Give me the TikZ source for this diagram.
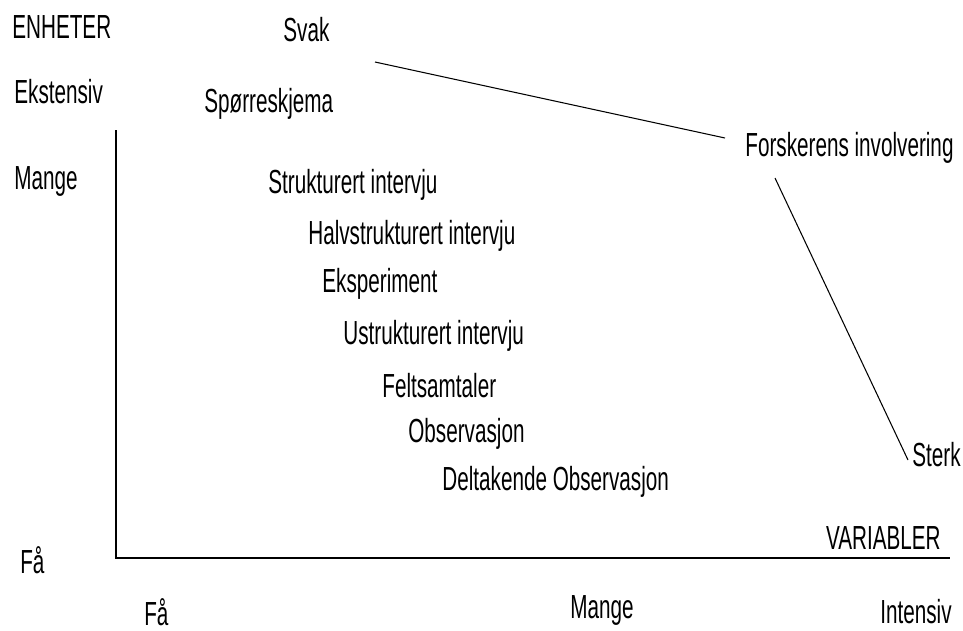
\documentclass[tikz,border=0pt]{standalone}
\usepackage{fontspec}
\setmainfont{Liberation Sans}[FakeStretch=0.62]
\begin{document}
\begin{tikzpicture}[x=0.02cm,y=-0.02cm,
		lbl/.style={anchor=west,inner sep=0pt,font=\fontsize{19}{22}\selectfont},
		axis/.style={line width=1.1pt},
		thin line/.style={line width=0.6pt}]
		\useasboundingbox (0,0) rectangle (963,630);
		% the axes
		\coordinate (top) at (116,130);
		\coordinate (O) at (116,558);
		\coordinate (right) at (950,558);
		\draw[axis] (top) -- (O) -- (right);
		% labels on the left
		\node[lbl] (enheter) at (12,27) {ENHETER};
		\node[lbl] (ekst) at (14,92) {Ekstensiv};
		\node[lbl] (mangeL) at (14,181) {Mange};
		\node[lbl] (faL) at (20,560) {Få};
		% labels below
		\node[lbl] (faB) at (144,612) {Få};
		\node[lbl] (mangeB) at (570,610) {Mange};
		\node[lbl,anchor=east] (intens) at (952,612) {Intensiv};
		\node[lbl,anchor=east] (var) at (941,538) {VARIABLER};
		% the methods
		\node[lbl] (svak) at (283,30) {Svak};
		\node[lbl] (sporre) at (204,104) {Spørreskjema};
		\node[lbl] (strukt) at (268,185) {Strukturert intervju};
		\node[lbl] (halv) at (308,236) {Halvstrukturert intervju};
		\node[lbl] (eksp) at (322,284) {Eksperiment};
		\node[lbl] (ustrukt) at (343,336) {Ustrukturert intervju};
		\node[lbl] (felt) at (382,386) {Feltsamtaler};
		\node[lbl] (obs) at (408,434) {Observasjon};
		\node[lbl] (delt) at (442,482) {Deltakende Observasjon};
		% involvement
		\node[lbl] (forsk) at (745,148) {Forskerens involvering};
		\node[lbl] (sterk) at (912,455) {Sterk};
		\coordinate (s1) at (375,62);
		\coordinate (s2) at (725,138);
		\coordinate (s3) at (775,178);
		\coordinate (s4) at (908,460);
		\draw[thin line] (s1) -- (s2);
		\draw[thin line] (s3) -- (s4);
	\end{tikzpicture}
\end{document}
